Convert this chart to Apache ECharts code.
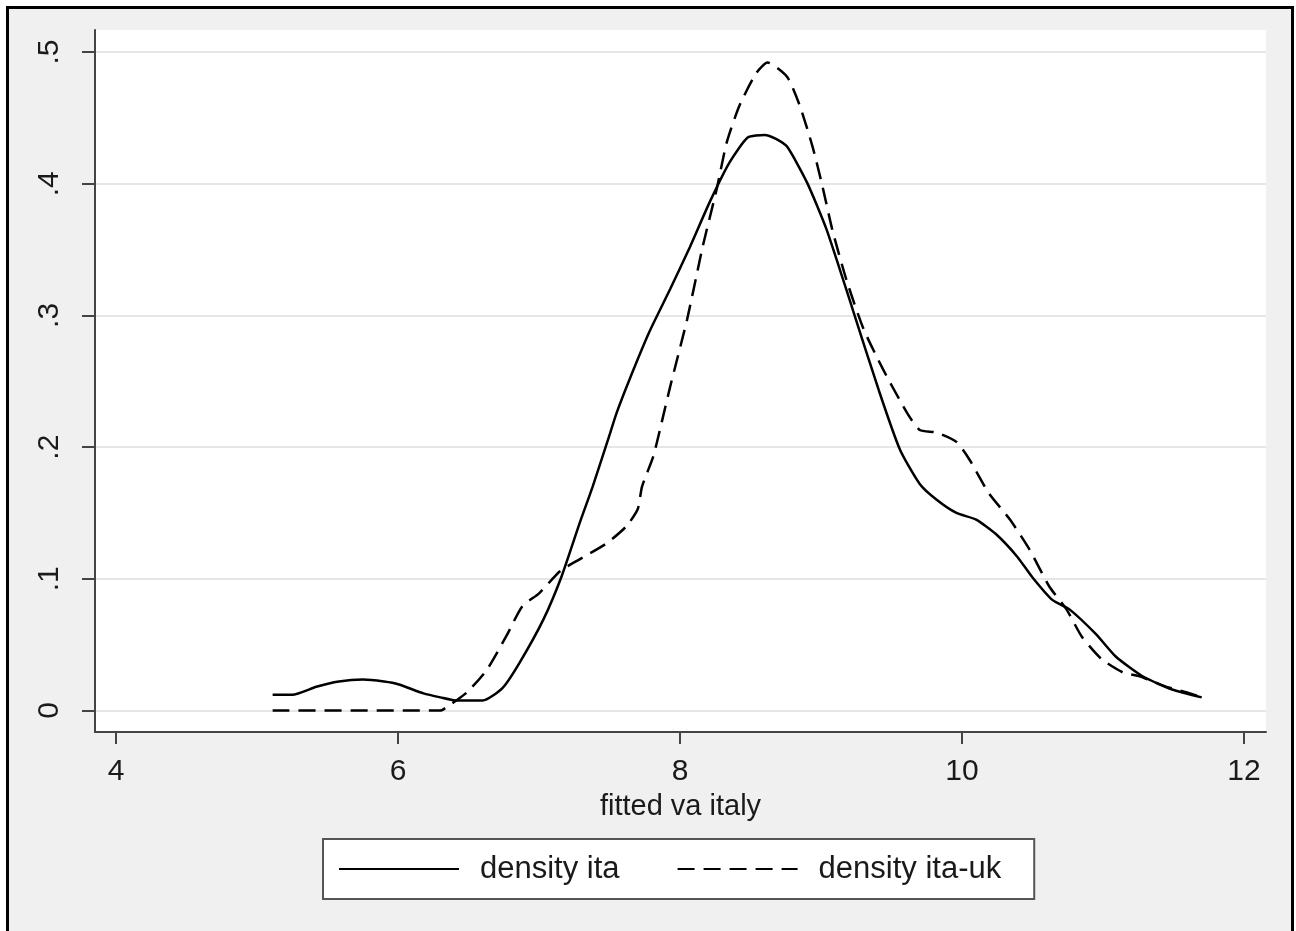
<!DOCTYPE html>
<html>
<head>
<meta charset="utf-8">
<script src="https://cdn.jsdelivr.net/npm/echarts@6/dist/echarts.min.js"></script>
<style>
  html, body {
    margin: 0;
    padding: 0;
    background: #fff;
    overflow: hidden;
  }
  /* Stata-style outer frame */
  .frame {
    position: absolute;
    left: 6px;
    top: 6px;
    width: 1288px;
    height: 1000px;
    box-sizing: border-box;
    border: 3px solid #000;
    background: #f0f0f0;
  }
  .chart {
    position: absolute;
    left: 0;
    top: 0;
    width: 1296px;
    height: 931px;
  }
</style>
</head>
<body>
<div class="frame"></div>
<div id="chart" class="chart"></div>
<script>
/* ---------------- Data ---------------- */
const xTicks = [4, 6, 8, 10, 12];
const yTicks = [0, 0.1, 0.2, 0.3, 0.4, 0.5];

const xIta = [5.11, 5.25, 5.42, 5.58, 5.75, 5.90, 6.00, 6.18, 6.30, 6.42, 6.60, 6.74, 6.86, 7.03, 7.16, 7.29, 7.38, 7.49, 7.55, 7.64, 7.78, 7.93, 8.07, 8.21, 8.35, 8.48, 8.60, 8.68, 8.76, 8.90, 9.04, 9.22, 9.41, 9.56, 9.70, 9.82, 9.96, 10.10, 10.24, 10.39, 10.50, 10.64, 10.76, 10.95, 11.09, 11.28, 11.49, 11.70];
const yIta = [0.012, 0.012, 0.018, 0.022, 0.0235, 0.022, 0.020, 0.013, 0.010, 0.0076, 0.0076, 0.017, 0.036, 0.069, 0.102, 0.143, 0.170, 0.206, 0.226, 0.251, 0.287, 0.320, 0.352, 0.386, 0.416, 0.435, 0.437, 0.434, 0.428, 0.401, 0.365, 0.306, 0.243, 0.198, 0.172, 0.160, 0.150, 0.145, 0.134, 0.117, 0.101, 0.084, 0.077, 0.058, 0.041, 0.026, 0.016, 0.010];

const xItaUk = [5.11, 6.30, 6.35, 6.49, 6.63, 6.77, 6.88, 7.00, 7.15, 7.29, 7.48, 7.62, 7.70, 7.73, 7.81, 7.87, 7.93, 8.05, 8.16, 8.26, 8.33, 8.42, 8.54, 8.62, 8.76, 8.85, 8.94, 9.01, 9.08, 9.18, 9.30, 9.44, 9.61, 9.70, 9.82, 9.96, 10.05, 10.19, 10.34, 10.48, 10.62, 10.74, 10.85, 10.99, 11.14, 11.26, 11.45, 11.59, 11.70];
const yItaUk = [0, 0, 0.003, 0.014, 0.031, 0.057, 0.079, 0.089, 0.106, 0.115, 0.127, 0.140, 0.153, 0.170, 0.193, 0.219, 0.246, 0.297, 0.352, 0.396, 0.431, 0.459, 0.484, 0.492, 0.481, 0.459, 0.428, 0.398, 0.365, 0.327, 0.290, 0.259, 0.226, 0.213, 0.211, 0.204, 0.191, 0.165, 0.145, 0.122, 0.094, 0.077, 0.056, 0.039, 0.029, 0.026, 0.018, 0.014, 0.010];

/* ---------------- Helpers ---------------- */
const zip = (xs, ys) => xs.map((x, i) => [x, ys[i]]);
const stataLabel = v => (v === 0 ? "0" : "." + Math.round(v * 10));

const FONT = "'Liberation Sans', Arial, sans-serif";
const INK = "#1a1a1a";

/* ---------------- Chart ---------------- */
const chartInstance = echarts.init(document.getElementById("chart"));

const option = {
  animation: false,
  backgroundColor: "transparent",
  grid: {
    left: 95,
    right: 30,
    top: 30,
    bottom: 199,
    show: true,
    backgroundColor: "#fff",
    borderWidth: 0
  },
  xAxis: {
    type: "value",
    min: 3.85,
    max: 12.156,
    name: "fitted va italy",
    nameLocation: "middle",
    nameGap: 60,
    nameTextStyle: { fontFamily: FONT, fontSize: 29, color: INK },
    axisLine: { show: true, onZero: false, lineStyle: { color: "#444", width: 2 } },
    axisTick: {
      show: true,
      customValues: xTicks,
      length: 12,
      lineStyle: { color: "#444", width: 2 }
    },
    axisLabel: {
      customValues: xTicks,
      margin: 25,
      fontFamily: FONT,
      fontSize: 30,
      color: INK
    },
    splitLine: { show: false }
  },
  yAxis: {
    type: "value",
    min: -0.0163,
    max: 0.5167,
    axisLine: { show: true, onZero: false, lineStyle: { color: "#444", width: 2 } },
    axisTick: {
      show: true,
      customValues: yTicks,
      length: 13,
      lineStyle: { color: "#444", width: 2 }
    },
    axisLabel: {
      customValues: yTicks,
      rotate: 90,
      margin: 30,
      fontFamily: FONT,
      fontSize: 30,
      color: INK,
      formatter: stataLabel
    },
    splitLine: { show: true, lineStyle: { color: "#e6e6e6", width: 2 } }
  },
  legend: {
    left: 323,
    top: 839,
    orient: "horizontal",
    itemWidth: 120,
    itemHeight: 20,
    itemGap: 57,
    padding: [14, 33, 14, 15],
    backgroundColor: "#fff",
    borderColor: "#555",
    borderWidth: 2,
    borderRadius: 0,
    itemStyle: { opacity: 0 },
    textStyle: {
      fontFamily: FONT,
      fontSize: 31,
      lineHeight: 32,
      color: INK,
      padding: [0, 0, 0, 16]
    },
    data: ["density ita", "density ita-uk"]
  },
  series: [
    {
      name: "density ita",
      type: "line",
      data: zip(xIta, yIta),
      symbol: "none",
      smooth: 0.2,
      lineStyle: { color: "#000", width: 2.5, type: "solid" },
      itemStyle: { color: "#000" }
    },
    {
      name: "density ita-uk",
      type: "line",
      data: zip(xItaUk, yItaUk),
      symbol: "none",
      smooth: 0.2,
      lineStyle: { color: "#000", width: 2.5, type: [17, 9] },
      itemStyle: { color: "#000" }
    }
  ]
};

chartInstance.setOption(option);
</script>
</body>
</html>
